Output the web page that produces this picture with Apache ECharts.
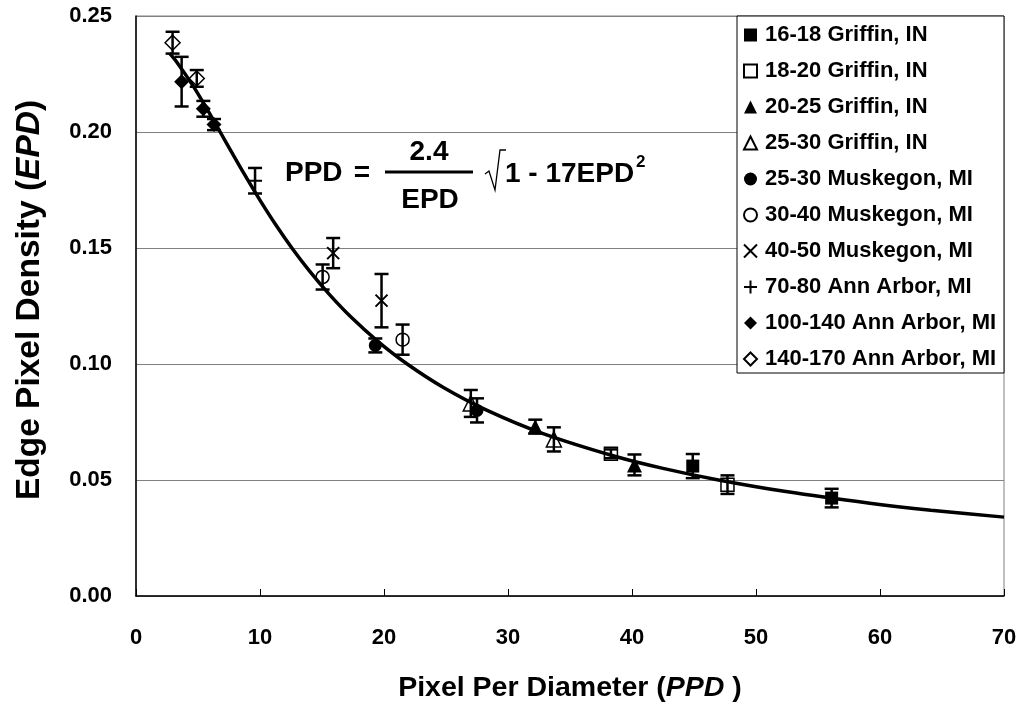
<!DOCTYPE html>
<html>
<head>
<meta charset="utf-8">
<script src="https://cdn.jsdelivr.net/npm/echarts@6/dist/echarts.min.js"></script>
<style>
  html, body { margin: 0; padding: 0; background: #fff; }
  #chart { width: 1023px; height: 713px; }
</style>
</head>
<body>
<div id="chart"></div>
<script>
// Each point: [PPD, EPD, half-height of the error bar]
const griffin1618   = [[44.9, 0.0560, 0.0052], [56.1, 0.0422, 0.0040]];
const griffin1820   = [[38.3, 0.0613, 0.0019], [47.7, 0.0480, 0.0040]];
const griffin2025   = [[32.2, 0.0730, 0.0030], [40.2, 0.0565, 0.0045]];
const griffin2530   = [[27.0, 0.0830, 0.0058], [33.7, 0.0675, 0.0052]];
const muskegon2530  = [[19.3, 0.1080, 0.0030], [27.5, 0.0800, 0.0052]];
const muskegon3040  = [[15.05, 0.1375, 0.0054], [21.5, 0.1105, 0.0065]];
const muskegon4050  = [[15.9, 0.1478, 0.0065], [19.8, 0.1273, 0.0115]];
const annArbor7080  = [[9.6, 0.1790, 0.0055]];
const annArbor100140 = [[3.68, 0.2217, 0.0107], [5.43, 0.2100, 0.0034], [6.29, 0.2032, 0.0024]];
const annArbor140170 = [[2.95, 0.2385, 0.0047], [4.9, 0.2231, 0.0036]];

// Fitted relation PPD = 2.4/EPD * sqrt(1 - 17 EPD^2), points along the drawn curve
const fitCurve = [
  [2.70, 0.234], [3.31, 0.230], [4.59, 0.220], [5.72, 0.210], [6.79, 0.200],
  [7.85, 0.190], [8.94, 0.180], [10.07, 0.170], [11.27, 0.160], [12.57, 0.150],
  [14.0, 0.140], [15.59, 0.130], [17.38, 0.120], [19.45, 0.110], [21.87, 0.100],
  [24.76, 0.090], [28.32, 0.080], [32.83, 0.070], [38.76, 0.060], [42.50, 0.055],
  [46.97, 0.050], [52.41, 0.045], [59.18, 0.040], [64.1, 0.037], [70, 0.034]
];

const xTicks = { min: 0, max: 70, step: 10 };
const yTicks = { min: 0, max: 0.25, step: 0.05 };

const FONT = '"Liberation Sans", Arial, sans-serif';
const BLACK = '#000';
const HOLLOW = 'rgba(0,0,0,0)';

const groups = [
  { name: '16-18 Griffin, IN',      data: griffin1618,    symbol: 'rect',     size: 13, filled: true },
  { name: '18-20 Griffin, IN',      data: griffin1820,    symbol: 'rect',     size: 13, filled: false },
  { name: '20-25 Griffin, IN',      data: griffin2025,    symbol: 'triangle', size: 15, filled: true },
  { name: '25-30 Griffin, IN',      data: griffin2530,    symbol: 'triangle', size: 15, filled: false },
  { name: '25-30 Muskegon, MI',     data: muskegon2530,   symbol: 'circle',   size: 13, filled: true },
  { name: '30-40 Muskegon, MI',     data: muskegon3040,   symbol: 'circle',   size: 13, filled: false },
  { name: '40-50 Muskegon, MI',     data: muskegon4050,   symbol: 'path://M0,0L10,10M10,0L0,10', size: 12, filled: false, stroke: 2 },
  { name: '70-80 Ann Arbor, MI',    data: annArbor7080,   symbol: 'path://M5,0L5,10M0,5L10,5',   size: 14, filled: false, stroke: 2 },
  { name: '100-140 Ann Arbor, MI',  data: annArbor100140, symbol: 'diamond',  size: 15, filled: true },
  { name: '140-170 Ann Arbor, MI',  data: annArbor140170, symbol: 'diamond',  size: 15, filled: false }
];

const markerSeries = groups.map(g => ({
  name: g.name,
  type: 'scatter',
  data: g.data.map(p => [p[0], p[1]]),
  symbol: g.symbol,
  symbolSize: g.size,
  z: 4,
  itemStyle: {
    color: g.filled ? BLACK : HOLLOW,
    borderColor: BLACK,
    borderWidth: g.filled ? 0 : (g.stroke || 1.5),
    opacity: 1
  },
  emphasis: { disabled: true }
}));

// all error bars in one custom series
const allPoints = [].concat(...groups.map(g => g.data));

function renderErrorBar(params, api) {
  const x = api.value(0), y = api.value(1), e = api.value(2);
  const top = api.coord([x, y + e]);
  const bot = api.coord([x, y - e]);
  const half = 7;
  const style = { stroke: BLACK, lineWidth: 2.5, fill: null };
  return {
    type: 'group',
    children: [
      { type: 'line', shape: { x1: top[0], y1: top[1], x2: bot[0], y2: bot[1] }, style },
      { type: 'line', shape: { x1: top[0] - half, y1: top[1], x2: top[0] + half, y2: top[1] }, style },
      { type: 'line', shape: { x1: bot[0] - half, y1: bot[1], x2: bot[0] + half, y2: bot[1] }, style }
    ]
  };
}

const chart = echarts.init(document.getElementById('chart'), null, { renderer: 'canvas' });

const formulaFont = 'bold 28px ' + FONT;
const yTitleSize = 33.5;

chart.setOption({
  animation: false,
  backgroundColor: '#fff',
  grid: {
    left: 136, top: 16, right: 19, bottom: 117,
    show: true, borderColor: '#808080', borderWidth: 1, backgroundColor: 'transparent'
  },
  xAxis: {
    type: 'value',
    min: xTicks.min, max: xTicks.max, interval: xTicks.step,
    name: 'Pixel Per Diameter ({i|PPD })',
    nameLocation: 'middle',
    nameGap: 78,
    nameTextStyle: {
      fontFamily: FONT, fontWeight: 'bold', fontSize: 28.5, color: BLACK,
      rich: { i: { fontFamily: FONT, fontWeight: 'bold', fontStyle: 'italic', fontSize: 28.5, color: BLACK } }
    },
    axisLine: { show: true, onZero: false, lineStyle: { color: BLACK, width: 1.5 } },
    axisTick: { show: true, inside: true, length: 7, lineStyle: { color: BLACK, width: 1 } },
    splitLine: { show: false },
    axisLabel: { margin: 31, fontFamily: FONT, fontWeight: 'bold', fontSize: 22, color: BLACK }
  },
  yAxis: {
    type: 'value',
    min: yTicks.min, max: yTicks.max, interval: yTicks.step,
    axisLine: { show: true, onZero: false, lineStyle: { color: BLACK, width: 1.5 } },
    axisTick: { show: false },
    splitLine: { show: true, lineStyle: { color: '#808080', width: 1 } },
    axisLabel: {
      margin: 24, fontFamily: FONT, fontWeight: 'bold', fontSize: 22, color: BLACK,
      formatter: v => v.toFixed(2)
    }
  },
  legend: {
    orient: 'vertical',
    left: 741, top: 16,
    padding: [8, 4, 8, 2],
    itemWidth: 13, itemHeight: 13, itemGap: 14,
    selectedMode: false,
    data: groups.map(g => g.name),
    textStyle: { fontFamily: FONT, fontWeight: 'bold', fontSize: 22, lineHeight: 22, color: BLACK, padding: [0, 0, 0, 3] },
    z: 10
  },
  graphic: [
    {
      type: 'rect', z: 3,
      shape: { x: 737, y: 16, width: 267, height: 357 },
      style: { fill: '#fff', stroke: BLACK, lineWidth: 1 }
    },
    // vertical axis title
    {
      type: 'text', z: 5, x: 30, y: 300, rotation: Math.PI / 2,
      style: {
        text: 'Edge Pixel Density ({i|EPD})',
        fontFamily: FONT, fontWeight: 'bold', fontSize: yTitleSize, fill: BLACK,
        align: 'center', verticalAlign: 'middle',
        rich: { i: { fontFamily: FONT, fontWeight: 'bold', fontStyle: 'italic', fontSize: yTitleSize, fill: BLACK } }
      }
    },
    // fitted relation
    { type: 'text', z: 5, x: 285, y: 173, style: { text: 'PPD', font: formulaFont, fill: BLACK, textVerticalAlign: 'middle' } },
    { type: 'text', z: 5, x: 362, y: 173, style: { text: '=', font: formulaFont, fill: BLACK, textAlign: 'center', textVerticalAlign: 'middle' } },
    { type: 'line', z: 5, shape: { x1: 385, y1: 172, x2: 473, y2: 172 }, style: { stroke: BLACK, lineWidth: 3 } },
    { type: 'text', z: 5, x: 429, y: 152, style: { text: '2.4', font: formulaFont, fill: BLACK, textAlign: 'center', textVerticalAlign: 'middle' } },
    { type: 'text', z: 5, x: 430, y: 200, style: { text: 'EPD', font: formulaFont, fill: BLACK, textAlign: 'center', textVerticalAlign: 'middle' } },
    { type: 'polyline', z: 5, shape: { points: [[485, 174], [489, 171], [495, 190], [500, 150], [506, 150]] }, style: { stroke: BLACK, lineWidth: 1.3, fill: null } },
    { type: 'text', z: 5, x: 505, y: 174, style: { text: '1 - 17EPD', font: formulaFont, fill: BLACK, textVerticalAlign: 'middle' } },
    { type: 'text', z: 5, x: 636, y: 162, style: { text: '2', font: 'bold 17px ' + FONT, fill: BLACK, textVerticalAlign: 'middle' } }
  ],
  series: [
    {
      name: 'fit',
      type: 'line',
      data: fitCurve,
      smooth: 0.3,
      showSymbol: false,
      symbol: 'none',
      z: 3,
      lineStyle: { color: BLACK, width: 3.5 },
      emphasis: { disabled: true }
    },
    ...markerSeries,
    {
      name: 'error',
      type: 'custom',
      data: allPoints,
      encode: { x: 0, y: 1 },
      renderItem: renderErrorBar,
      z: 5,
      silent: true
    }
  ]
});
</script>
</body>
</html>
